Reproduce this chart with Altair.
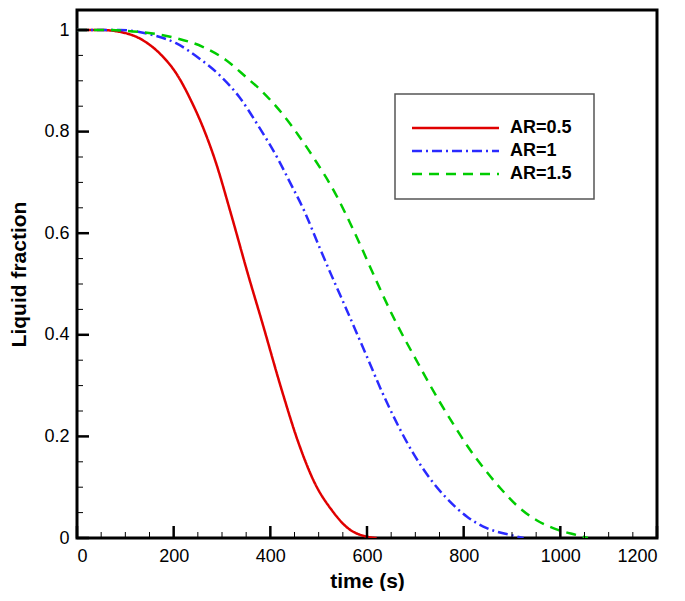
import altair as alt
import pandas as pd

# ---- data ----
series_names = ["AR=0.5", "AR=1", "AR=1.5"]

red_t = [0, 50, 85, 136, 171, 205, 239, 260, 287, 318, 355, 383, 424, 458, 492, 527, 561, 598, 620]
red_y = [1, 1, 0.997, 0.98, 0.954, 0.915, 0.855, 0.81, 0.74, 0.64, 0.515, 0.425, 0.29, 0.188, 0.108, 0.055, 0.019, 0.003, 0]

blue_t = [0, 88, 157, 205, 253, 294, 335, 376, 417, 438, 472, 500, 527, 558, 602, 629, 664, 698, 732, 763, 807, 849, 896, 924]
blue_y = [1, 1, 0.99, 0.974, 0.944, 0.912, 0.869, 0.810, 0.744, 0.705, 0.640, 0.576, 0.516, 0.449, 0.352, 0.292, 0.222, 0.163, 0.115, 0.080, 0.042, 0.019, 0.006, 0]

green_t = [0, 54, 157, 205, 260, 308, 349, 383, 424, 458, 492, 534, 561, 588, 609, 657, 705, 746, 780, 807, 842, 876, 910, 951, 992, 1033, 1057]
green_y = [1, 1, 0.993, 0.984, 0.967, 0.941, 0.908, 0.879, 0.836, 0.793, 0.745, 0.679, 0.628, 0.573, 0.528, 0.43, 0.345, 0.275, 0.222, 0.182, 0.137, 0.098, 0.064, 0.035, 0.017, 0.006, 0]

x_major = [0, 200, 400, 600, 800, 1000, 1200]
x_minor = [v for v in range(0, 1201, 50) if v % 200 != 0]
y_major = [0, 0.2, 0.4, 0.6, 0.8, 1.0]
y_minor = [round(0.05 * i, 2) for i in range(0, 21) if i % 4 != 0]

colors = ["#e00000", "#2a2aff", "#00cc00"]
dashes = [[1, 0], [10, 4, 2, 4], [10, 7]]

# ---- layout (style) ----
W, H = 580, 528
Y_TOP = 528 / 508.0
FONT = "Liberation Sans"

rows = []
for name, ts, ys in zip(series_names, [red_t, blue_t, green_t], [red_y, blue_y, green_y]):
    for t, y in zip(ts, ys):
        rows.append({"series": name, "time": t, "frac": y})
df = pd.DataFrame(rows)

xs = alt.Scale(domain=[0, 1200], nice=False, zero=False)
ys = alt.Scale(domain=[0, Y_TOP], nice=False, zero=False)

lines = alt.Chart(df).mark_line(strokeWidth=2.5, interpolate="monotone", clip=True).encode(
    x=alt.X("time:Q", scale=xs,
            axis=alt.Axis(values=x_major, format="d", title="time (s)", ticks=False, domain=False,
                          grid=False, labelFontSize=18, labelFont=FONT, labelColor="black",
                          labelPadding=9, titleFont=FONT, titleFontSize=21, titleFontWeight="bold",
                          titleColor="black", titlePadding=5)),
    y=alt.Y("frac:Q", scale=ys,
            axis=alt.Axis(values=y_major, format="~g", title="Liquid fraction", ticks=False, domain=False,
                          grid=False, labelFontSize=18, labelFont=FONT, labelColor="black",
                          labelPadding=8, titleFont=FONT, titleFontSize=21, titleFontWeight="bold",
                          titleColor="black", titlePadding=14)),
    color=alt.Color("series:N", scale=alt.Scale(domain=series_names, range=colors), legend=None),
    strokeDash=alt.StrokeDash("series:N", scale=alt.Scale(domain=series_names, range=dashes), legend=None),
    detail="series:N",
)

# inward ticks
xmaj = alt.Chart(pd.DataFrame({"v": x_major})).mark_rule(color="black", strokeWidth=2.5).encode(
    x=alt.X("v:Q", scale=xs), y=alt.value(H), y2=alt.value(H - 12))
xmin = alt.Chart(pd.DataFrame({"v": x_minor})).mark_rule(color="black", strokeWidth=1).encode(
    x=alt.X("v:Q", scale=xs), y=alt.value(H), y2=alt.value(H - 6))
ymaj = alt.Chart(pd.DataFrame({"v": y_major})).mark_rule(color="black", strokeWidth=2.5).encode(
    y=alt.Y("v:Q", scale=ys), x=alt.value(0), x2=alt.value(12))
ymin = alt.Chart(pd.DataFrame({"v": y_minor})).mark_rule(color="black", strokeWidth=1).encode(
    y=alt.Y("v:Q", scale=ys), x=alt.value(0), x2=alt.value(6))

# legend box
leg_df = pd.DataFrame({"series": series_names, "row": [0, 1, 2]})
box = alt.Chart(pd.DataFrame({"a": [0]})).mark_rect(fill="white", stroke="#555555", strokeWidth=1.5).encode(
    x=alt.value(318), x2=alt.value(517), y=alt.value(84), y2=alt.value(189))
leg_layers = [box]
row_y = [118, 141, 164]
for i, name in enumerate(series_names):
    sub = leg_df[leg_df.series == name]
    leg_layers.append(
        alt.Chart(sub).mark_rule(color=colors[i], strokeWidth=2.5, strokeDash=dashes[i]).encode(
            x=alt.value(335), x2=alt.value(422), y=alt.value(row_y[i])))
    leg_layers.append(
        alt.Chart(sub).mark_text(align="left", baseline="middle", font=FONT, fontSize=18,
                                 fontWeight="bold", color="black").encode(
            x=alt.value(433), y=alt.value(row_y[i]), text="series:N"))

chart = alt.layer(lines, xmin, xmaj, ymin, ymaj, *leg_layers).properties(
    width=W, height=H,
    background="white",
    autosize=alt.AutoSizeParams(type="none"),
    padding={"left": 69, "top": 2, "right": 20, "bottom": 53},
).configure_view(stroke="black", strokeWidth=3)

chart.save("out.html", embed_options={"renderer": "svg", "actions": False})
